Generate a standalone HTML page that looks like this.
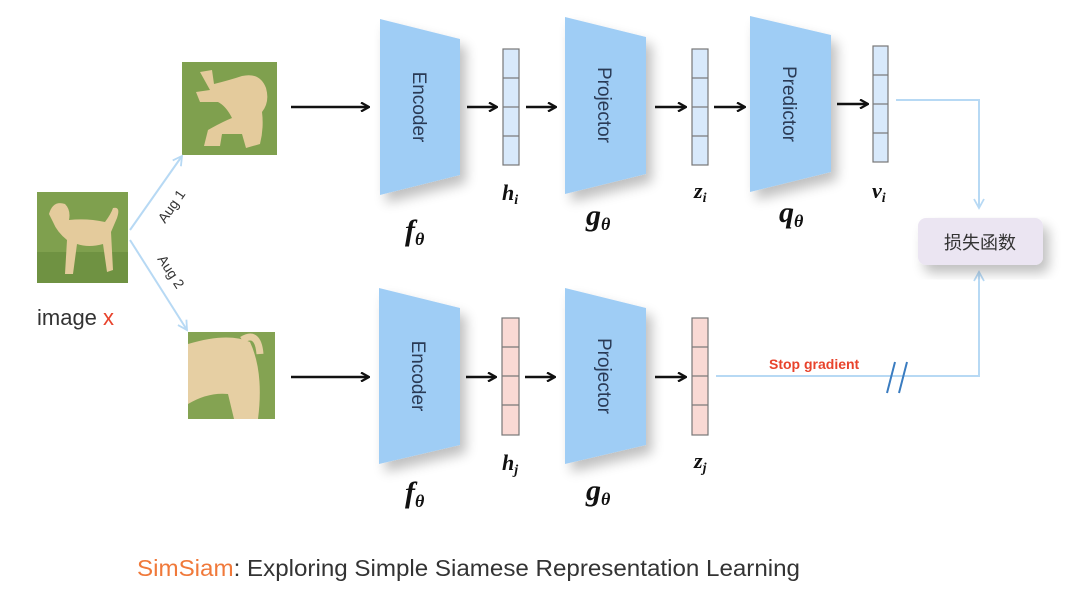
<!DOCTYPE html>
<html><head><meta charset="utf-8"><style>
html,body{margin:0;padding:0;background:#fff;}
svg{display:block;}
</style></head><body>
<svg width="1080" height="598" viewBox="0 0 1080 598" xmlns="http://www.w3.org/2000/svg" font-family="Liberation Sans, sans-serif">
<defs>
<marker id="ab" markerWidth="10" markerHeight="10" refX="9" refY="5" orient="auto" markerUnits="userSpaceOnUse"><path d="M1,0.5 L9,5 L1,9.5" fill="none" stroke="#111" stroke-width="2.2"/></marker>
<marker id="al" markerWidth="12" markerHeight="12" refX="10" refY="6" orient="auto" markerUnits="userSpaceOnUse"><path d="M1,1 L10,6 L1,11" fill="none" stroke="#b7d9f4" stroke-width="1.8"/></marker>
<filter id="sh" x="-20%" y="-20%" width="150%" height="150%"><feGaussianBlur in="SourceAlpha" stdDeviation="6"/><feOffset dx="6" dy="8"/><feComponentTransfer><feFuncA type="linear" slope="0.25"/></feComponentTransfer><feMerge><feMergeNode/><feMergeNode in="SourceGraphic"/></feMerge></filter>
</defs>

<!-- original image -->
<g transform="translate(37,192)">
<rect width="91" height="91" fill="#7fa04e"/>
<rect y="60" width="91" height="31" fill="#6f9242"/>
<path d="M12,22 Q16,8 28,12 Q34,18 32,28 Q50,26 68,30 Q74,22 76,16 Q84,14 80,26 L74,40 L76,78 L70,80 L66,52 Q52,56 40,52 L36,82 L28,82 L30,48 Q20,40 16,30 Z" fill="#e4cb9c"/>
</g>
<!-- aug1 rotated dog -->
<g transform="translate(182,62)">
<rect width="95" height="93" fill="#7fa04e"/>
<path d="M18,10 L30,8 L32,22 Q48,18 60,14 Q78,10 84,26 Q88,40 80,50 Q82,66 78,82 L64,86 L60,72 L40,72 L38,84 L22,84 L26,68 Q40,60 50,56 Q44,44 36,40 L18,40 L14,30 L28,28 Z" fill="#e4cb9c"/>
</g>
<!-- aug2 crop -->
<g transform="translate(188,332)">
<rect width="87" height="87" fill="#84a352"/>
<path d="M0,12 Q40,0 62,10 Q76,40 70,87 L46,87 L40,62 Q20,60 0,72 Z" fill="#e6cfa3"/>
<path d="M54,8 Q70,-2 72,22" stroke="#e6cfa3" stroke-width="7" fill="none"/>
</g>

<!-- aug lines -->
<line x1="130" y1="230" x2="182" y2="156" stroke="#b7d9f4" stroke-width="2" marker-end="url(#al)"/>
<line x1="130" y1="240" x2="187" y2="330" stroke="#b7d9f4" stroke-width="2" marker-end="url(#al)"/>
<text x="0" y="0" font-size="14" fill="#333" transform="translate(165,224) rotate(-55)">Aug 1</text>
<text x="0" y="0" font-size="14" fill="#333" transform="translate(157,259) rotate(57)">Aug 2</text>
<text x="37" y="325" font-size="22" fill="#333">image <tspan fill="#e8432c">x</tspan></text>

<g filter="url(#sh)">
<polygon points="380,19 460,39 460,175 380,195" fill="#9fcdf5"/>
<polygon points="565,17 646,37 646,174 565,194" fill="#9fcdf5"/>
<polygon points="750,16 831,35 831,172 750,192" fill="#9fcdf5"/>
<polygon points="379,288 460,308 460,445 379,464" fill="#9fcdf5"/>
<polygon points="565,288 646,308 646,445 565,464" fill="#9fcdf5"/>
</g>
<g font-size="19" fill="#2a3a55">
<text transform="translate(413,107) rotate(90)" text-anchor="middle">Encoder</text>
<text transform="translate(598,105) rotate(90)" text-anchor="middle">Projector</text>
<text transform="translate(783,104) rotate(90)" text-anchor="middle">Predictor</text>
<text transform="translate(412,376) rotate(90)" text-anchor="middle">Encoder</text>
<text transform="translate(598,376) rotate(90)" text-anchor="middle">Projector</text>
</g>

<g stroke="#777" stroke-width="1.2" fill="#d8e9fb">
<rect x="503" y="49" width="16" height="116"/><line x1="503" y1="78" x2="519" y2="78"/><line x1="503" y1="107" x2="519" y2="107"/><line x1="503" y1="136" x2="519" y2="136"/>
<rect x="692" y="49" width="16" height="116"/><line x1="692" y1="78" x2="708" y2="78"/><line x1="692" y1="107" x2="708" y2="107"/><line x1="692" y1="136" x2="708" y2="136"/>
<rect x="873" y="46" width="15" height="116"/><line x1="873" y1="75" x2="888" y2="75"/><line x1="873" y1="104" x2="888" y2="104"/><line x1="873" y1="133" x2="888" y2="133"/>
</g>
<g stroke="#777" stroke-width="1.2" fill="#f9d9d4">
<rect x="502" y="318" width="17" height="117"/><line x1="502" y1="347" x2="519" y2="347"/><line x1="502" y1="376" x2="519" y2="376"/><line x1="502" y1="405" x2="519" y2="405"/>
<rect x="692" y="318" width="16" height="117"/><line x1="692" y1="347" x2="708" y2="347"/><line x1="692" y1="376" x2="708" y2="376"/><line x1="692" y1="405" x2="708" y2="405"/>
</g>

<g stroke="#111" stroke-width="2.4" marker-end="url(#ab)">
<line x1="291" y1="107" x2="369" y2="107"/>
<line x1="467" y1="107" x2="497" y2="107"/>
<line x1="526" y1="107" x2="556" y2="107"/>
<line x1="655" y1="107" x2="686" y2="107"/>
<line x1="714" y1="107" x2="745" y2="107"/>
<line x1="837" y1="104" x2="868" y2="104"/>
<line x1="291" y1="377" x2="369" y2="377"/>
<line x1="466" y1="377" x2="496" y2="377"/>
<line x1="525" y1="377" x2="555" y2="377"/>
<line x1="655" y1="377" x2="686" y2="377"/>
</g>

<polyline points="896,100 979,100 979,208" fill="none" stroke="#b7d9f4" stroke-width="2" marker-end="url(#al)"/>
<polyline points="716,376 979,376 979,272" fill="none" stroke="#b7d9f4" stroke-width="2" marker-end="url(#al)"/>
<line x1="887" y1="393" x2="895" y2="362" stroke="#3a7cc0" stroke-width="2"/>
<line x1="899" y1="393" x2="907" y2="362" stroke="#3a7cc0" stroke-width="2"/>
<text x="769" y="369" font-size="14" font-weight="bold" fill="#e8432c">Stop gradient</text>

<rect x="918" y="218" width="125" height="47" rx="8" fill="#ebe5f2" filter="url(#sh)"/>
<text x="980" y="249" font-size="18" fill="#333" text-anchor="middle" font-family="Liberation Sans, Noto Sans CJK SC, sans-serif">损失函数</text>

<g font-family="Liberation Serif, serif" font-style="italic" font-weight="bold" fill="#111">
<text x="502" y="200" font-size="22">h<tspan font-size="14" dy="4">i</tspan></text>
<text x="405" y="240" font-size="30">f<tspan font-size="18" dy="5">θ</tspan></text>
<text x="586" y="225" font-size="30">g<tspan font-size="18" dy="5">θ</tspan></text>
<text x="694" y="198" font-size="22">z<tspan font-size="14" dy="4">i</tspan></text>
<text x="779" y="222" font-size="30">q<tspan font-size="18" dy="5">θ</tspan></text>
<text x="872" y="198" font-size="22">v<tspan font-size="14" dy="4">i</tspan></text>
<text x="502" y="470" font-size="22">h<tspan font-size="14" dy="4">j</tspan></text>
<text x="405" y="502" font-size="30">f<tspan font-size="18" dy="5">θ</tspan></text>
<text x="586" y="500" font-size="30">g<tspan font-size="18" dy="5">θ</tspan></text>
<text x="694" y="468" font-size="22">z<tspan font-size="14" dy="4">j</tspan></text>
</g>

<text x="137" y="576" font-size="23" fill="#333" textLength="663" lengthAdjust="spacingAndGlyphs"><tspan fill="#f0793a">SimSiam</tspan>:  Exploring Simple Siamese Representation Learning</text>
</svg>
</body></html>
